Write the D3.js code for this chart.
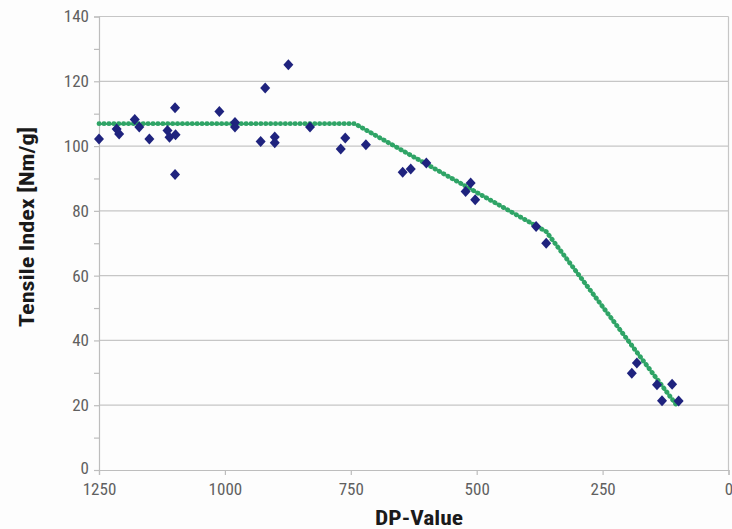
<!DOCTYPE html>
<html>
<head>
<meta charset="utf-8">
<script src="https://cdn.jsdelivr.net/npm/d3@7"></script>
<style>
  body { margin: 0; background: #fdfdfd; }
  svg text { font-family: "Liberation Sans Narrow", "Arial Narrow", "Roboto Condensed", "Liberation Sans", sans-serif; }
</style>
</head>
<body>
<svg id="chart" width="732" height="529"></svg>
<script>
const dpValues = [1250, 1215, 1210, 1179, 1170, 1150, 1114, 1110, 1098, 1099, 1099, 1011, 980, 980,
  929, 920, 901, 901, 874, 831, 770, 761, 720, 647, 631, 600, 512, 522, 503, 382, 362, 192, 182, 142, 112, 132, 99];
const tensileValues = [102.2, 105.3, 103.7, 108.2, 105.9, 102.2, 104.8, 102.7, 103.5, 111.8, 91.2, 110.7, 107.3, 105.9,
  101.4, 117.9, 102.8, 101.0, 125.1, 105.9, 99.1, 102.5, 100.4, 91.9, 92.9, 94.8, 88.6, 86.0, 83.4, 75.2, 70.0, 29.9, 33.0, 26.3, 26.5, 21.4, 21.3];
const fitDP = [1250, 742, 362, 101];
const fitTensile = [106.9, 106.9, 73.6, 19.6];
const xTicks = [1250, 1000, 750, 500, 250, 0];
const yTicks = [0, 20, 40, 60, 80, 100, 120, 140];
const xTitle = "DP-Value";
const yTitle = "Tensile Index [Nm/g]";

const svg = d3.select("#chart");
const x = d3.scaleLinear().domain([1250, 0]).range([99, 728.5]);
const y = d3.scaleLinear().domain([0, 140]).range([470, 16.5]);

// gridlines
svg.append("g").selectAll("line").data(yTicks.filter(d => d > 0)).join("line")
  .attr("x1", x(1250)).attr("x2", x(0))
  .attr("y1", d => y(d)).attr("y2", d => y(d))
  .attr("stroke", "#c6c6c6").attr("stroke-width", 1.2);
// right border
svg.append("line").attr("x1", x(0)).attr("x2", x(0)).attr("y1", y(140)).attr("y2", y(0))
  .attr("stroke", "#c6c6c6").attr("stroke-width", 1.2);

// axes
const yAxis = d3.axisLeft(y).tickValues(d3.range(0, 141, 10)).tickSize(5).tickPadding(5)
  .tickFormat(d => yTicks.includes(d) ? d : "");
const gy = svg.append("g").attr("transform", `translate(${x(1250)},0)`).call(yAxis);
gy.selectAll("text").attr("font-size", 17).attr("fill", "#606060");
gy.selectAll(".tick").filter(d => d === 0).select("text").attr("dy", "0.2em");

const xAxis = d3.axisBottom(x).tickValues(xTicks).tickSize(5).tickPadding(8).tickFormat(d => d);
const gx = svg.append("g").attr("transform", `translate(0,${y(0)})`).call(xAxis);
gx.selectAll("text").attr("font-size", 17).attr("fill", "#606060");
[gx, gy].forEach(g => {
  g.select(".domain").attr("stroke", "#bdbdbd").attr("stroke-width", 1.2);
  g.selectAll(".tick line").attr("stroke", "#bdbdbd").attr("stroke-width", 1.2);
});

// fit line
svg.append("path")
  .datum(fitDP.map((d, i) => [d, fitTensile[i]]))
  .attr("d", d3.line().x(d => x(d[0])).y(d => y(d[1])))
  .attr("fill", "none").attr("stroke", "#2fa466").attr("stroke-width", 4.8)
  .attr("stroke-linecap", "round").attr("stroke-dasharray", "0.3 4.6");

// points
svg.append("g").selectAll("path").data(dpValues.map((d, i) => [d, tensileValues[i]])).join("path")
  .attr("transform", d => `translate(${x(d[0])},${y(d[1])})`)
  .attr("d", "M0,-5.5L5,0L0,5.5L-5,0Z")
  .attr("fill", "#1f237e");

// titles
svg.append("text").attr("x", 419).attr("y", 525).attr("text-anchor", "middle")
  .attr("font-size", 21).attr("font-weight", "bold").attr("fill", "#1a1a1a")
  .attr("textLength", 88).attr("lengthAdjust", "spacingAndGlyphs").text(xTitle);
svg.append("text").attr("transform", "translate(34,227) rotate(-90)").attr("text-anchor", "middle")
  .attr("font-size", 21).attr("font-weight", "bold").attr("fill", "#1a1a1a")
  .attr("textLength", 200).attr("lengthAdjust", "spacingAndGlyphs").text(yTitle);
</script>
</body>
</html>
